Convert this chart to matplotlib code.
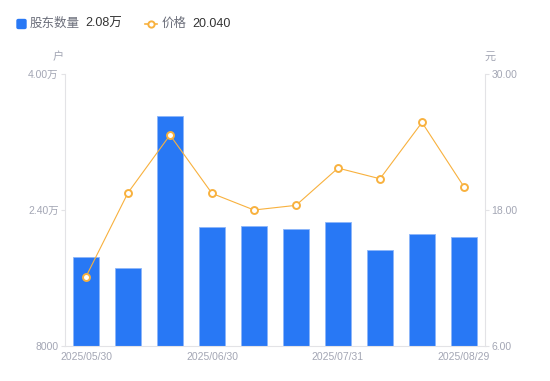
import numpy as np
import matplotlib
matplotlib.use("Agg")
import matplotlib.pyplot as plt
from matplotlib.patches import FancyBboxPatch
from matplotlib.lines import Line2D

plt.rcParams['font.family'] = ['Liberation Sans', 'Noto Sans CJK SC', 'DejaVu Sans']

# data
dates = ["2025/05/30", "2025/06/10", "2025/06/20", "2025/06/30", "2025/07/10",
         "2025/07/20", "2025/07/31", "2025/08/10", "2025/08/20", "2025/08/29"]
holders = [18500, 17200, 35050, 22000, 22100, 21770, 22630, 19270, 21220, 20800]
price = [12.13, 19.52, 24.60, 19.46, 18.00, 18.41, 21.69, 20.75, 25.71, 20.04]

left_ticks = [8000, 24000, 40000]
left_labels = ["8000", "2.40万", "4.00万"]
right_ticks = [6, 18, 30]
right_labels = ["6.00", "18.00", "30.00"]

blue = "#2878F5"
orange = "#F8B13E"
grey_txt = "#A3A6B4"
axis_col = "#E3E3E6"

fig = plt.figure(figsize=(5.5, 3.81), dpi=100)
ax = fig.add_axes([65/550, 1-346.3/381, 420/550, (346.3-73.7)/381])
x = np.arange(len(dates))

ax.bar(x, holders, width=0.6, color=blue, edgecolor="#8DB6F9", linewidth=0.6, zorder=2)
ax.set_xlim(-0.5, len(dates)-0.5)
ax.set_ylim(8000, 40000)
ax.set_yticks(left_ticks)
ax.set_yticklabels(left_labels)
ax.set_xticks(x[::3])
ax.set_xticklabels(dates[::3])
ax.tick_params(axis='x', length=0, colors=grey_txt, labelsize=7.5, pad=4)
ax.tick_params(axis='y', length=3, width=0.8, color=axis_col, colors=grey_txt,
               labelsize=7.5, pad=1.5)
for s in ['top', 'right']:
    ax.spines[s].set_visible(False)
for s in ['left', 'bottom']:
    ax.spines[s].set_color(axis_col)
    ax.spines[s].set_linewidth(0.8)

ax2 = ax.twinx()
ax2.plot(x, price, color=orange, linewidth=0.8, marker='o', markersize=5,
         markerfacecolor='white', markeredgecolor=orange, markeredgewidth=1.4,
         zorder=3)
ax2.set_ylim(6, 30)
ax2.set_yticks(right_ticks)
ax2.set_yticklabels(right_labels)
ax2.tick_params(axis='y', length=3, width=0.8, color=axis_col, colors=grey_txt,
                labelsize=7.5, pad=1.5)
for s in ['top', 'left', 'bottom']:
    ax2.spines[s].set_visible(False)
ax2.spines['right'].set_color(axis_col)
ax2.spines['right'].set_linewidth(0.8)

# unit labels
fig.text(58/550, 1-57/381, "户", color=grey_txt, fontsize=8, ha='center', va='center')
fig.text(490/550, 1-57/381, "元", color=grey_txt, fontsize=8, ha='center', va='center')

# legend across the top
fig.patches.append(FancyBboxPatch((17/550, 1-28.5/381), 9/550, 9/381,
                                  boxstyle="round,pad=0,rounding_size=0.003",
                                  transform=fig.transFigure, color=blue))
fig.text(30/550, 1-24/381, "股东数量", color="#6B6E7A", fontsize=9, va='center')
fig.text(85/550, 1-24/381, "2.08万", color="#333333", fontsize=9, va='center')
fig.lines.append(Line2D([145/550, 157/550], [1-24/381, 1-24/381], transform=fig.transFigure,
                        color=orange, linewidth=1.2, marker='o', markevery=[0],
                        markersize=0))
fig.lines.append(Line2D([151/550], [1-24/381], transform=fig.transFigure, color=orange,
                        marker='o', markersize=4.5, markerfacecolor='white',
                        markeredgewidth=1.4, linestyle='none'))
fig.text(162/550, 1-24/381, "价格", color="#6B6E7A", fontsize=9, va='center')
fig.text(192/550, 1-24/381, "20.040", color="#333333", fontsize=9, va='center')

fig.savefig("out.png", dpi=100)
